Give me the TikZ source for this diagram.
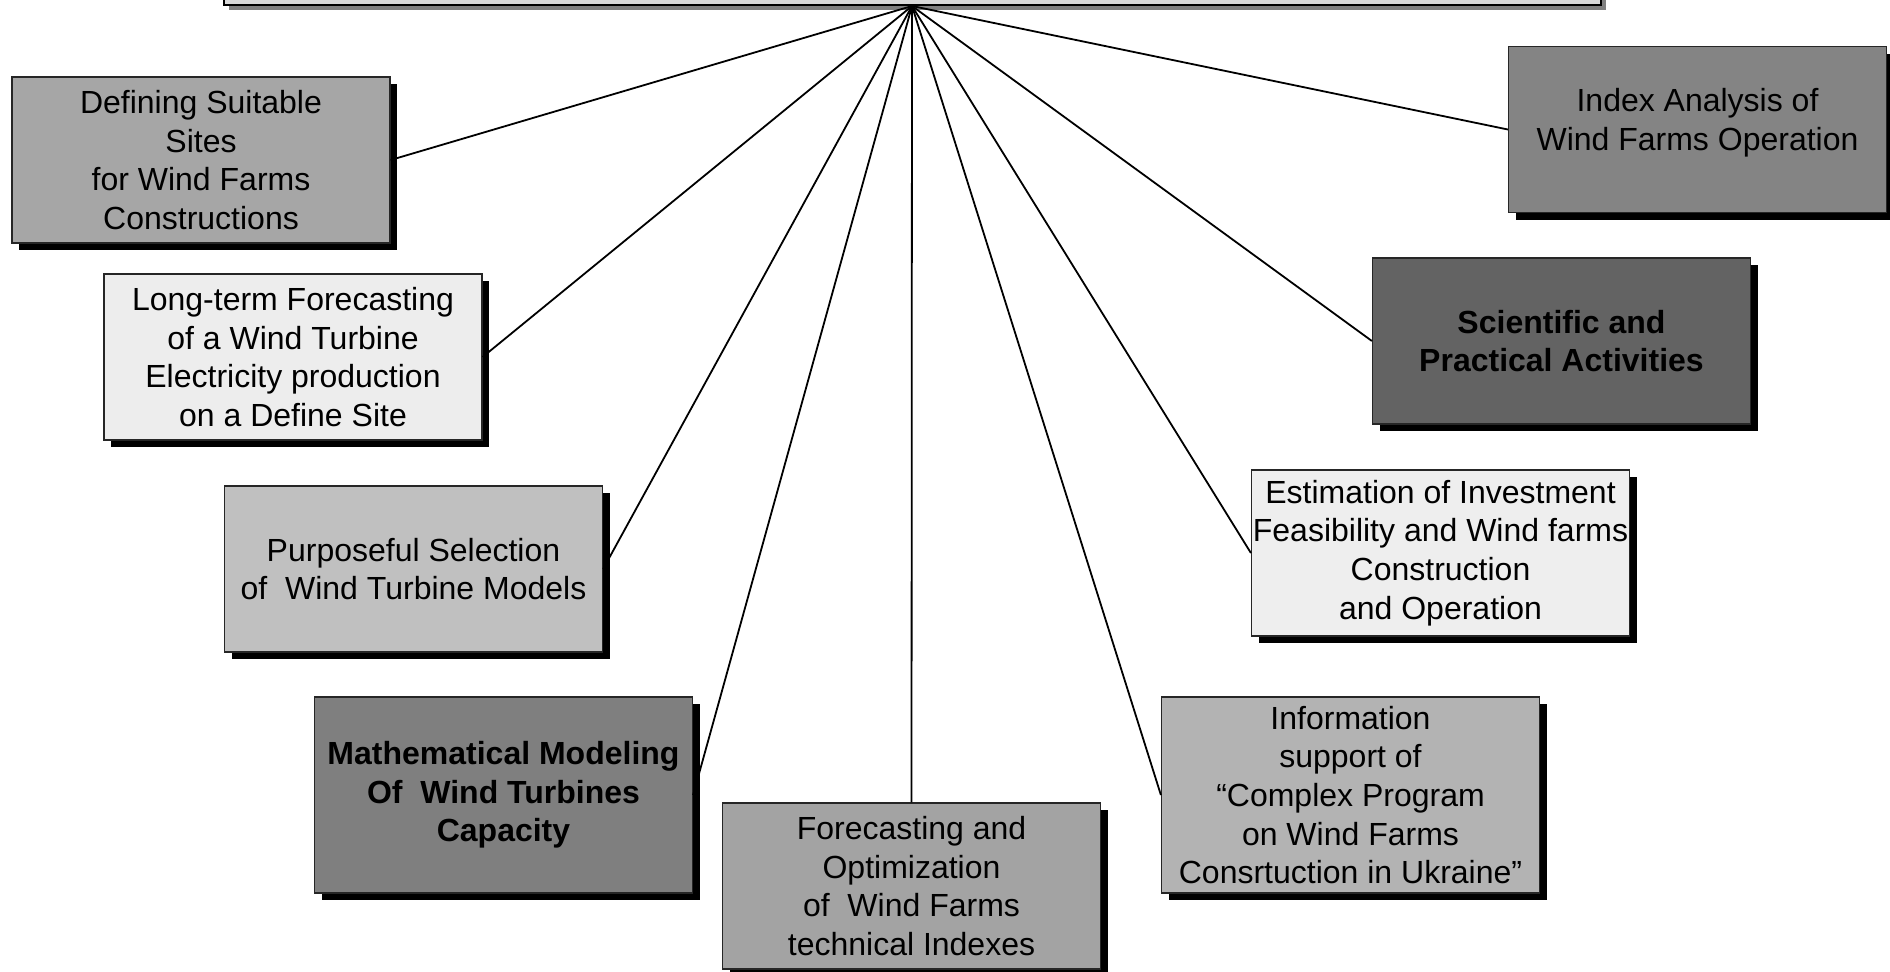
\documentclass[tikz,border=0pt]{standalone}
\usepackage{fontspec}
\setmainfont{Liberation Sans}
\usetikzlibrary{shadows}
\definecolor{cTop}{HTML}{D9D9D9}
\definecolor{cTopSh}{HTML}{808080}
\definecolor{cA}{HTML}{A6A6A6}
\definecolor{cB}{HTML}{EDEDED}
\definecolor{cC}{HTML}{C0C0C0}
\definecolor{cD}{HTML}{7F7F7F}
\definecolor{cE}{HTML}{A3A3A3}
\definecolor{cF}{HTML}{B3B3B3}
\definecolor{cG}{HTML}{EEEEEE}
\definecolor{cH}{HTML}{636363}
\definecolor{cI}{HTML}{848484}
\begin{document}
\begin{tikzpicture}[x=0.5pt,y=-0.5pt,
  box/.style={draw=black!85, line width=0.6pt, minimum width=189pt, minimum height=83pt,
    inner sep=0pt, align=center, font=\fontsize{16pt}{19.3pt}\selectfont,
    drop shadow={shadow xshift=3.5pt, shadow yshift=-3.5pt, fill=black, opacity=1}},
  tall/.style={minimum height=98pt},
  boldtext/.style={font=\fontsize{16pt}{19.3pt}\selectfont\bfseries},
  link/.style={line width=0.9pt}]
\useasboundingbox (0,0) rectangle (1890,971);
\fill[white] (0,0) rectangle (1890,971);
\node[draw=black, line width=1pt, fill=cTop, minimum width=688.5pt, minimum height=53pt,
  inner sep=0pt,
  drop shadow={shadow xshift=2.5pt, shadow yshift=-2.5pt, fill=cTopSh, opacity=1}] (top) at (912,-48) {};
\node[box, fill=cA] (b1) at (201,160) {Defining Suitable\\Sites\\for Wind Farms\\Constructions};
\node[box, fill=cB] (b2) at (293,357) {Long-term Forecasting\\of a Wind Turbine\\Electricity production\\on a Define Site};
\node[box, fill=cC] (b3) at (413.5,569) {Purposeful Selection\\of~ Wind Turbine Models};
\node[box, tall, fill=cD, boldtext] (b4) at (503.5,795) {Mathematical Modeling\\Of~ Wind Turbines\\Capacity};
\node[box, fill=cE] (b5) at (911.5,886) {Forecasting and\\Optimization\\of~ Wind Farms\\technical Indexes};
\node[box, tall, fill=cF] (b6) at (1350.5,795) {Information\\support of\\``Complex Program\\on Wind Farms\\Consrtuction in Ukraine''};
\node[box, fill=cG] (b7) at (1440.5,553) {Estimation of Investment\\Feasibility and Wind farms\\Construction\\and Operation};
\node[box, fill=cH, boldtext] (b8) at (1561.5,341) {Scientific and\\Practical Activities};
\node[box, fill=cI] (b9) at (1697.5,129.5) {Index Analysis of\\Wind Farms Operation\\[-9pt]\mbox{}};
\coordinate (hub) at (top.south);
\draw[link] (hub) -- (b1.east);
\draw[link] (hub) -- (b2.east);
\draw[link] (hub) -- (b3.east);
\draw[link] (hub) -- (b4.east);
\draw[link] (hub) -- (b5.north);
\draw[link] (hub) -- (b6.west);
\draw[link] (hub) -- (b7.west);
\draw[link] (hub) -- (b8.west);
\draw[link] (hub) -- (b9.west);
\end{tikzpicture}
\end{document}
